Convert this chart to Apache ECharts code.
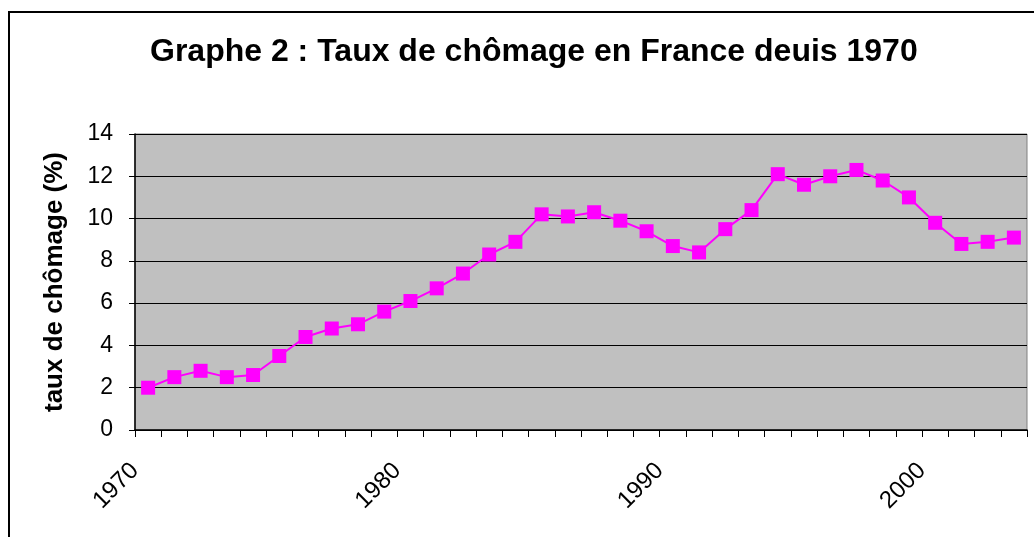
<!DOCTYPE html>
<html>
<head>
<meta charset="utf-8">
<script src="https://cdn.jsdelivr.net/npm/echarts@6/dist/echarts.min.js"></script>
<style>
html, body { margin: 0; padding: 0; background: #fff; }
#main { width: 1034px; height: 537px; }
</style>
</head>
<body>
<div id="main"></div>
<script>
// années 1970 - 2003
var years = [];
for (var y = 1970; y <= 2003; y++) { years.push(String(y)); }
// taux de chômage (%)
var taux = [2.0, 2.5, 2.8, 2.5, 2.6, 3.5, 4.4, 4.8, 5.0, 5.6,
            6.1, 6.7, 7.4, 8.3, 8.9, 10.2, 10.1, 10.3, 9.9, 9.4,
            8.7, 8.4, 9.5, 10.4, 12.1, 11.6, 12.0, 12.3, 11.8, 11.0,
            9.8, 8.8, 8.9, 9.1];
var yTicks = [0, 2, 4, 6, 8, 10, 12, 14];
// étiquettes placées sur les graduations (bord gauche de chaque année)
var tickLabels = years.concat(['']);

var myChart = echarts.init(document.getElementById('main'));
var option = {
    backgroundColor: '#fff',
    animation: false,
    textStyle: { fontFamily: 'Liberation Sans, Arial, sans-serif', color: '#000' },
    title: {
        text: 'Graphe 2 : Taux de chômage en France deuis 1970',
        left: 145,
        top: 31,
        textStyle: { fontSize: 32, fontWeight: 'bold', color: '#000', fontFamily: 'Liberation Sans, Arial, sans-serif' }
    },
    graphic: [{
        type: 'rect',
        shape: { x: 9, y: 12, width: 1100, height: 600 },
        style: { fill: 'none', stroke: '#000', lineWidth: 2 },
        silent: true
    }],
    grid: { left: 135, right: 7, top: 134, bottom: 107, show: true, backgroundColor: '#c0c0c0', borderColor: '#808080', borderWidth: 1 },
    xAxis: [{
        type: 'category',
        data: years,
        boundaryGap: true,
        axisLine: { lineStyle: { color: '#000', width: 1.5 } },
        axisTick: { show: true, interval: 0, length: 7, lineStyle: { color: '#000' } },
        axisLabel: { show: false },
        splitLine: { show: false }
    }, {
        type: 'category',
        data: tickLabels,
        boundaryGap: false,
        position: 'bottom',
        offset: 0,
        axisLine: { show: false },
        axisTick: { show: false },
        axisLabel: {
            interval: 9,
            rotate: 45,
            fontSize: 24,
            color: '#000',
            margin: 37
        },
        splitLine: { show: false }
    }],
    yAxis: {
        type: 'value',
        min: yTicks[0],
        max: yTicks[yTicks.length - 1],
        interval: 2,
        name: 'taux de chômage (%)',
        nameLocation: 'middle',
        nameGap: 67,
        nameTextStyle: { fontSize: 26, fontWeight: 'bold', color: '#000' },
        axisLine: { show: true, lineStyle: { color: '#000', width: 1.5 } },
        axisTick: { show: true, length: 6, lineStyle: { color: '#000' } },
        axisLabel: { fontSize: 23, color: '#000', margin: 22 },
        splitLine: { show: true, lineStyle: { color: '#000', width: 1 } }
    },
    series: [{
        type: 'line',
        data: taux,
        symbol: 'rect',
        symbolSize: 14,
        lineStyle: { color: '#ff00ff', width: 2 },
        itemStyle: { color: '#ff00ff' }
    }]
};
myChart.setOption(option);
</script>
</body>
</html>
